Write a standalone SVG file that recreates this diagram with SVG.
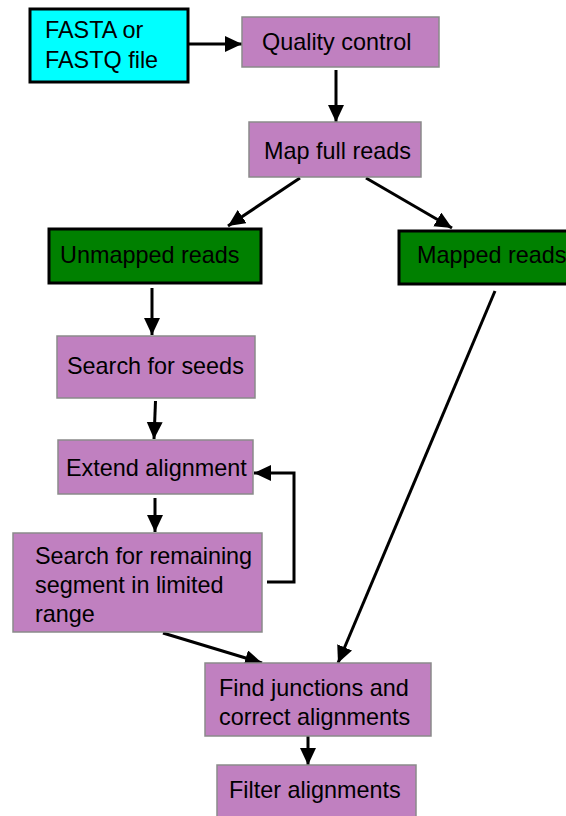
<svg xmlns="http://www.w3.org/2000/svg" width="566" height="816" viewBox="0 0 566 816">
  <style>
    .step { fill: #C080C0; stroke: #8A8A8A; stroke-width: 1.5; }
    .reads { fill: #008000; stroke: #000; stroke-width: 3; }
    .input { fill: #00FFFF; stroke: #000; stroke-width: 3; }
    text { font-family: "Liberation Sans", Arial, sans-serif; font-size: 23.4px; fill: #000; }
    .conn { fill: none; stroke: #000; stroke-width: 3; marker-end: url(#head); }
  </style>
  <defs>
    <marker id="head" markerUnits="userSpaceOnUse" markerWidth="18" markerHeight="17" refX="17" refY="8" orient="auto">
      <path d="M0,0 L17,8 L0,16 z" fill="#000"/>
    </marker>
  </defs>
  <rect width="566" height="816" fill="#fff"/>

  <g id="connectors">
    <line class="conn" x1="185" y1="44" x2="242" y2="44"/>
    <line class="conn" x1="336" y1="70" x2="336" y2="122"/>
    <line class="conn" x1="300" y1="178" x2="228" y2="226"/>
    <line class="conn" x1="366" y1="178" x2="452" y2="228"/>
    <line class="conn" x1="152" y1="288" x2="152" y2="335"/>
    <line class="conn" x1="155.5" y1="401" x2="154" y2="439"/>
    <line class="conn" x1="155" y1="498" x2="155" y2="532"/>
    <polyline class="conn" points="267,582 294,582 294,473 254,473"/>
    <line class="conn" x1="163" y1="633" x2="262" y2="663"/>
    <line class="conn" x1="495" y1="291" x2="338" y2="663"/>
    <line class="conn" x1="308" y1="736" x2="308" y2="765"/>
  </g>

  <g id="input-file">
    <rect class="input" x="30" y="9" width="158" height="73"/>
    <text x="45" y="38">FASTA or</text>
    <text x="45" y="67.5">FASTQ file</text>
  </g>
  <g id="quality-control">
    <rect class="step" x="242" y="17" width="197" height="50"/>
    <text x="262" y="49.5">Quality control</text>
  </g>
  <g id="map-full-reads">
    <rect class="step" x="249" y="122" width="172" height="55"/>
    <text x="264" y="159">Map full reads</text>
  </g>
  <g id="unmapped-reads">
    <rect class="reads" x="49" y="229" width="212" height="54"/>
    <text x="60" y="263">Unmapped reads</text>
  </g>
  <g id="mapped-reads">
    <rect class="reads" x="399" y="231" width="180" height="53"/>
    <text x="417" y="263">Mapped reads</text>
  </g>
  <g id="search-seeds">
    <rect class="step" x="57" y="336" width="198" height="62"/>
    <text x="67" y="374">Search for seeds</text>
  </g>
  <g id="extend-alignment">
    <rect class="step" x="58" y="440" width="195" height="54"/>
    <text x="66" y="475.5">Extend alignment</text>
  </g>
  <g id="search-remaining">
    <rect class="step" x="13" y="533" width="249" height="99"/>
    <text x="35" y="564">Search for remaining</text>
    <text x="35" y="593">segment in limited</text>
    <text x="35" y="622">range</text>
  </g>
  <g id="find-junctions">
    <rect class="step" x="205" y="663" width="226" height="73"/>
    <text x="219" y="696">Find junctions and</text>
    <text x="219" y="725">correct alignments</text>
  </g>
  <g id="filter-alignments">
    <rect class="step" x="217" y="765" width="199" height="60"/>
    <text x="229" y="798">Filter alignments</text>
  </g>
</svg>
